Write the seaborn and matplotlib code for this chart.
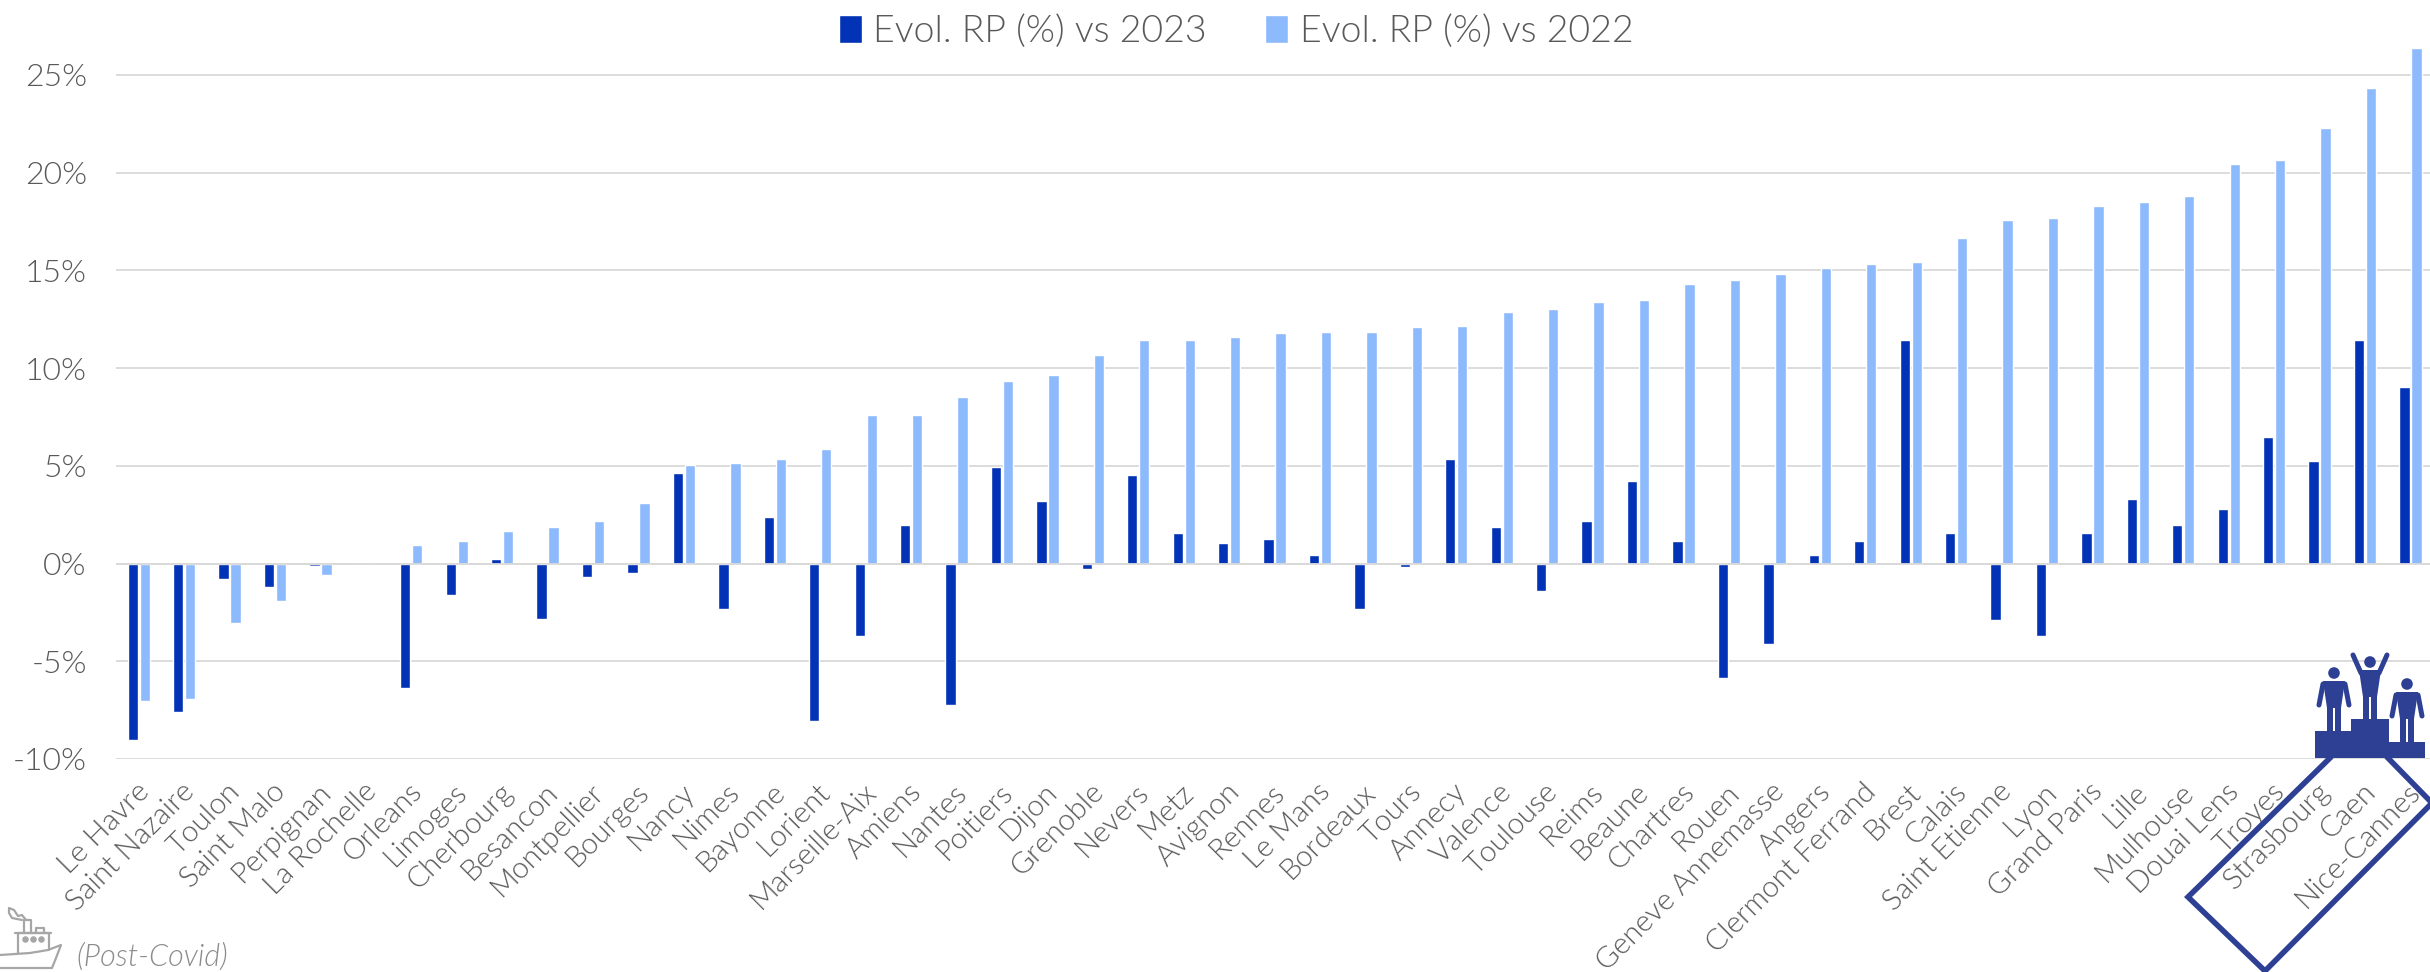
import matplotlib
matplotlib.use("Agg")
import matplotlib.pyplot as plt
import matplotlib.patches as mpatches
from matplotlib.ticker import FuncFormatter
from matplotlib.transforms import ScaledTranslation
import pandas as pd
import seaborn as sns

# -------------------------
# Data
# -------------------------
cities = [
    "Le Havre", "Saint Nazaire", "Toulon", "Saint Malo", "Perpignan", "La Rochelle",
    "Orleans", "Limoges", "Cherbourg", "Besancon", "Montpellier", "Bourges", "Nancy",
    "Nimes", "Bayonne", "Lorient", "Marseille-Aix", "Amiens", "Nantes", "Poitiers",
    "Dijon", "Grenoble", "Nevers", "Metz", "Avignon", "Rennes", "Le Mans", "Bordeaux",
    "Tours", "Annecy", "Valence", "Toulouse", "Reims", "Beaune", "Chartres", "Rouen",
    "Geneve Annemasse", "Angers", "Clermont Ferrand", "Brest", "Calais", "Saint Etienne",
    "Lyon", "Grand Paris", "Lille", "Mulhouse", "Douai Lens", "Troyes", "Strasbourg",
    "Caen", "Nice-Cannes",
]
evol_2023 = [
    -9.05, -7.6, -0.8, -1.2, -0.15, 0.0, -6.35, -1.6, 0.25, -2.85, -0.7, -0.5, 4.63,
    -2.35, 2.4, -8.05, -3.7, 1.97, -7.25, 4.93, 3.2, -0.27, 4.52, 1.57, 1.06, 1.26, 0.44, -2.35,
    -0.16, 5.34, 1.88, -1.4, 2.17, 4.2, 1.15, -5.85, -4.1, 0.44, 1.15, 11.46, 1.57, -2.9,
    -3.7, 1.57, 3.3, 1.97, 2.79, 6.47, 5.23, 11.46, 9.02,
]
evol_2022 = [
    -7.05, -6.95, -3.05, -1.9, -0.6, 0.0, 0.97, 1.17, 1.68, 1.89, 2.19, 3.1, 5.03,
    5.14, 5.34, 5.85, 7.59, 7.59, 8.5, 9.32, 9.63, 10.65, 11.46, 11.46, 11.57, 11.77, 11.86, 11.86,
    12.08, 12.17, 12.88, 13.0, 13.39, 13.5, 14.32, 14.52, 14.83, 15.14, 15.34, 15.43, 16.67, 17.58,
    17.69, 18.29, 18.49, 18.8, 20.44, 20.64, 22.28, 24.33, 26.37,
]
y_ticks = [-10, -5, 0, 5, 10, 15, 20, 25]
label_2023 = "Evol. RP (%) vs 2023"
label_2022 = "Evol. RP (%) vs 2022"

DARK = "#0232B5"
LIGHT = "#8DBAFD"
NAVY = "#2E4093"
TEXT = "#595959"
GRID = "#D9D9D9"
W, H = 2430, 972

sns.set_style("white")
plt.rcParams["font.family"] = ["Lato", "DejaVu Sans"]
plt.rcParams["font.weight"] = 300

df = pd.DataFrame({"city": cities, label_2023: evol_2023, label_2022: evol_2022})
long_df = df.melt(id_vars="city", var_name="serie", value_name="evol")

fig = plt.figure(figsize=(W / 100, H / 100), dpi=100)
ax = fig.add_axes([116 / W, (H - 759) / H, (W - 116) / W, 759 / H])

sns.barplot(
    data=long_df, x="city", y="evol", hue="serie", order=cities,
    hue_order=[label_2023, label_2022], palette=[DARK, LIGHT],
    width=0.528, gap=0.14, saturation=1, ax=ax,
)

# axes
ax.set_xlim(-0.5, 50.43)
ax.set_ylim(-10, 28.83)
ax.set_yticks(y_ticks)
ax.yaxis.set_major_formatter(FuncFormatter(lambda v, _: f"{v:.0f}%"))
ax.set_xlabel("")
ax.set_ylabel("")
ax.grid(axis="y", color=GRID, linewidth=1.3)
ax.set_axisbelow(True)
ax.axhline(0, color=GRID, linewidth=1.3, zorder=5)
sns.despine(ax=ax, left=True, bottom=True)
ax.tick_params(axis="y", length=0, pad=21, labelsize=23, labelcolor=TEXT)
ax.tick_params(axis="x", length=0, pad=14)
label_shift = ScaledTranslation(-3 / 100, 0, fig.dpi_scale_trans)
for tick in ax.get_xticklabels():
    tick.set(rotation=45, ha="right", va="top", rotation_mode="anchor",
             fontsize=21.3, color=TEXT)
    tick.set_transform(tick.get_transform() + label_shift)

leg = ax.legend(
    loc="center", bbox_to_anchor=(1236 / W, (H - 32) / H), bbox_transform=fig.transFigure,
    ncol=2, frameon=False, fontsize=27, labelcolor=TEXT, handlelength=0.62, handleheight=0.8,
    handletextpad=0.3, columnspacing=1.55, title=None, borderpad=0,
)

# overlay in image pixels for the podium and the ship
ov = fig.add_axes([0, 0, 1, 1], facecolor="none")
ov.set_xlim(0, W)
ov.set_ylim(H, 0)
ov.axis("off")


def draw_person(cx, head_y, foot_y, arms_up=False):
    """Small pictogram of a person standing on the podium."""
    ov.add_patch(mpatches.Circle((cx, head_y), 5.8, color=NAVY, lw=0))
    top = head_y + 8
    ov.add_patch(mpatches.Polygon(
        [(cx - 11, top), (cx + 11, top), (cx + 7, top + 27), (cx - 7, top + 27)], color=NAVY, lw=0))
    ov.add_patch(mpatches.Rectangle((cx - 7, top + 25), 6, foot_y - top - 25, color=NAVY, lw=0))
    ov.add_patch(mpatches.Rectangle((cx + 1, top + 25), 6, foot_y - top - 25, color=NAVY, lw=0))
    if arms_up:
        ov.plot([cx - 9, cx - 17], [top + 3, top - 15], color=NAVY, lw=3.6, solid_capstyle="round")
        ov.plot([cx + 9, cx + 17], [top + 3, top - 15], color=NAVY, lw=3.6, solid_capstyle="round")
    else:
        ov.plot([cx - 11, cx - 15], [top + 3, top + 24], color=NAVY, lw=3.6, solid_capstyle="round")
        ov.plot([cx + 11, cx + 15], [top + 3, top + 24], color=NAVY, lw=3.6, solid_capstyle="round")


for x0, x1, y0 in [(2315, 2351, 731), (2351, 2389, 719), (2389, 2425, 742)]:
    ov.add_patch(mpatches.Rectangle((x0, y0), x1 - x0, 758 - y0, color=NAVY, lw=0))
draw_person(2334, 673, 731)
draw_person(2370, 662, 719, arms_up=True)
draw_person(2407, 684, 742)
ov.plot([2331, 2188, 2265, 2432, 2387], [757, 897, 971, 803, 757], color=NAVY, lw=4,
        solid_joinstyle="miter", clip_on=False)

# ship
SHIP = "#A6A6A6"
ov.plot([0, 30, 48, 61, 56, 52, 0], [955, 953, 950, 945, 958, 968, 968], color=SHIP, lw=1.6)
ov.plot([18, 18, 49, 49], [953, 933, 933, 950], color=SHIP, lw=1.6)
ov.plot([15, 51], [933, 933], color=SHIP, lw=1.6)
ov.plot([24, 24, 31, 31], [933, 920, 920, 933], color=SHIP, lw=1.6)
ov.plot([36, 36, 44, 44], [933, 928, 928, 933], color=SHIP, lw=1.6)
ov.scatter([25, 33, 41], [939, 939, 939], s=22, color=SHIP, lw=0)
ov.plot([26, 22, 18, 14, 9, 9, 12, 17, 22], [920, 915, 916, 910, 908, 913, 918, 919, 920], color=SHIP, lw=1.6)
ov.text(76, 966, "(Post-Covid)", fontsize=22, style="italic", color="#8C8C8C", va="baseline")

fig.savefig("out.png", dpi=100)
